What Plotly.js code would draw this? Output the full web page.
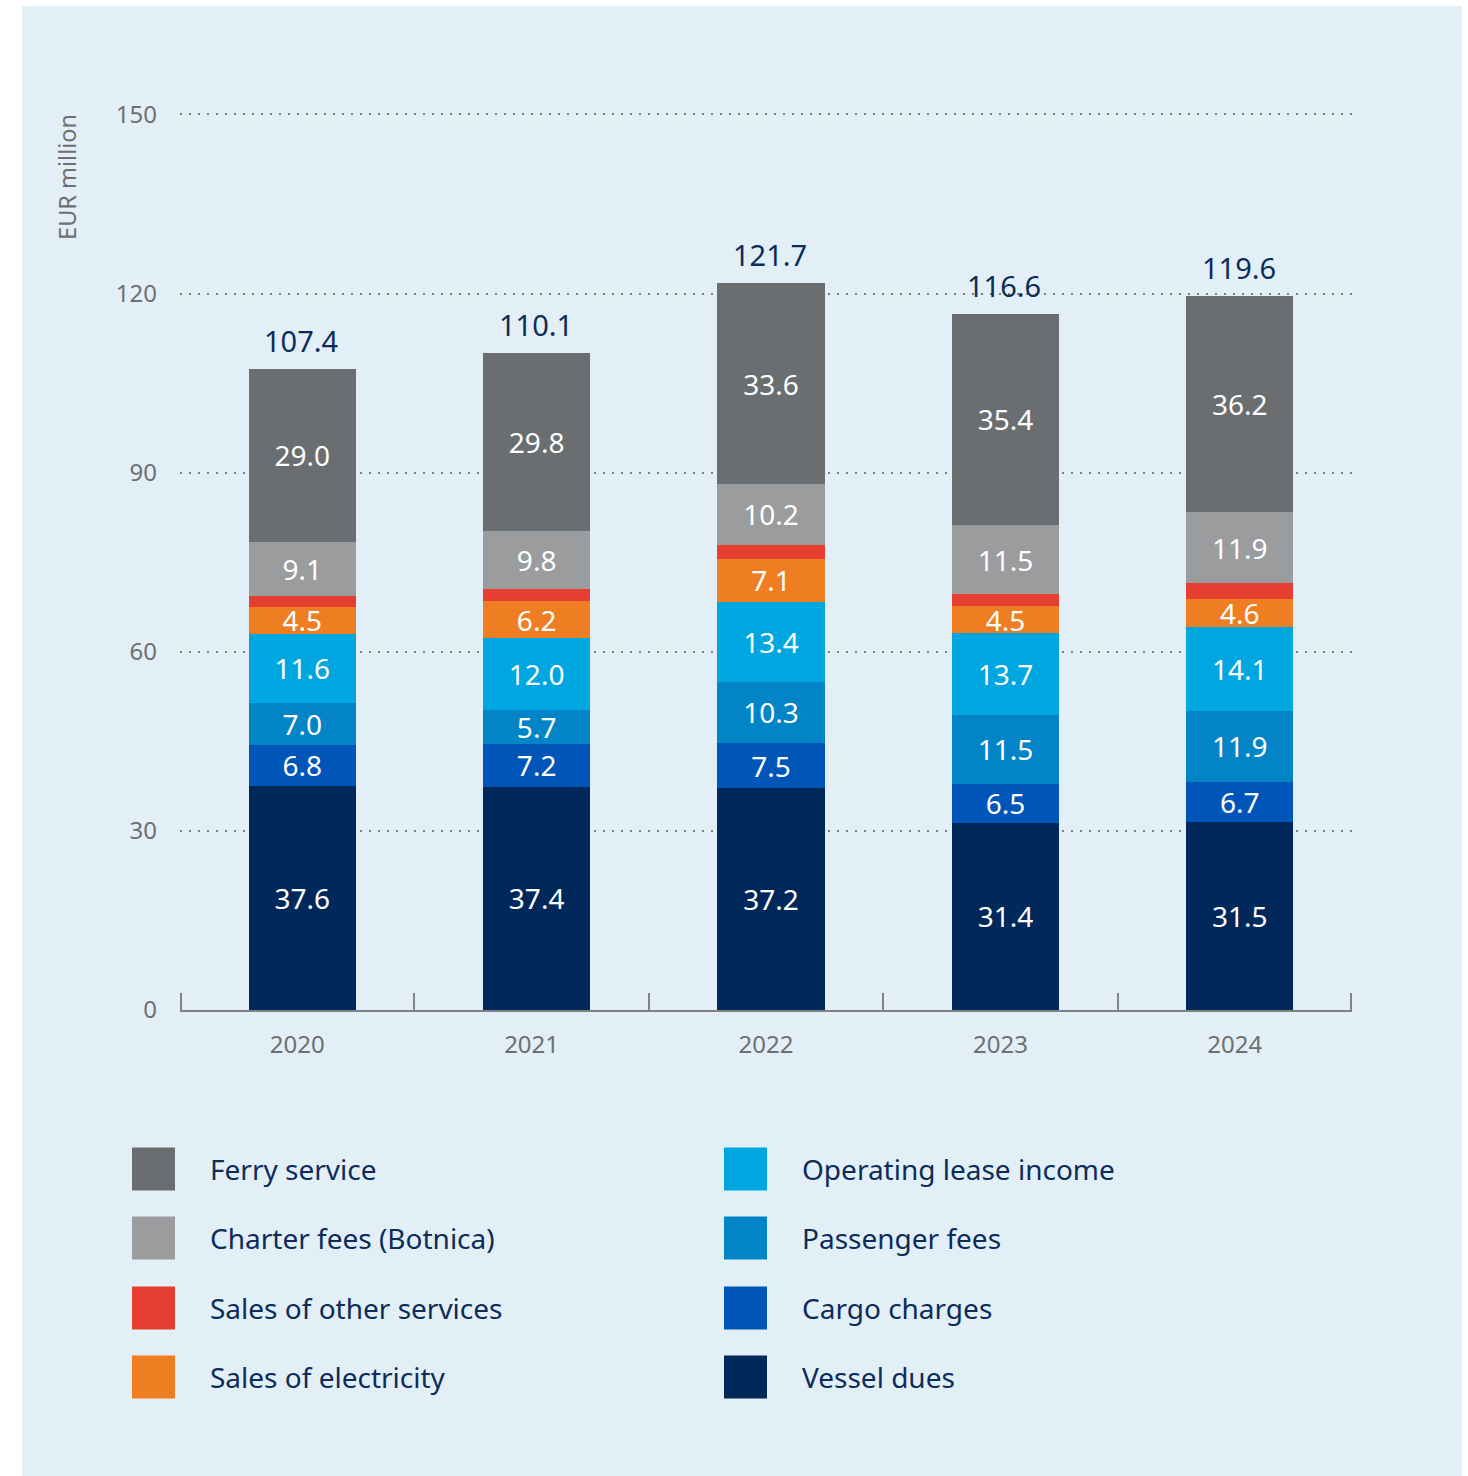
<!DOCTYPE html>
<html>
<head>
<meta charset="utf-8">
<script src="https://cdn.plot.ly/plotly-3.0.1.min.js"></script>
<style>
  html, body { margin: 0; padding: 0; background: #ffffff; }
  #panel { position: absolute; left: 22px; top: 6px; width: 1440px; height: 1470px; background: #e3eff7; }
  #chart { position: absolute; left: 0; top: 0; width: 1468px; height: 1476px; }
</style>
</head>
<body>
<div id="panel"></div>
<div id="chart"></div>
<script>
// ---- data ----
const years = ['2020', '2021', '2022', '2023', '2024'];
const vesselDues      = [37.6, 37.4, 37.2, 31.4, 31.5];
const cargoCharges    = [6.8, 7.2, 7.5, 6.5, 6.7];
const passengerFees   = [7.0, 5.7, 10.3, 11.5, 11.9];
const operatingLease  = [11.6, 12.0, 13.4, 13.7, 14.1];
const electricity     = [4.5, 6.2, 7.1, 4.5, 4.6];
const otherServices   = [1.8, 2.0, 2.4, 2.1, 2.7];
const charterFees     = [9.1, 9.8, 10.2, 11.5, 11.9];
const ferryService    = [29.0, 29.8, 33.6, 35.4, 36.2];
const totals          = [107.4, 110.1, 121.7, 116.6, 119.6];

const seriesNames = ['Vessel dues', 'Cargo charges', 'Passenger fees', 'Operating lease income',
                     'Sales of electricity', 'Sales of other services', 'Charter fees (Botnica)', 'Ferry service'];
const seriesValues = [vesselDues, cargoCharges, passengerFees, operatingLease,
                      electricity, otherServices, charterFees, ferryService];
const seriesLabelled = [true, true, true, true, true, false, true, true];
const seriesColors = ['#00285a', '#0055b9', '#0284c7', '#00a6e0',
                      '#ef7d22', '#e63e30', '#9b9c9e', '#6b6e70'];

const FONT = 'Noto Sans, Open Sans, DejaVu Sans, sans-serif';
const NAVY = '#0c2c59';
const GREY = '#6d6f71';
const AXIS = '#808285';

const traces = seriesNames.map((name, i) => ({
  type: 'bar',
  name: name,
  x: years,
  y: seriesValues[i],
  width: 0.457,
  offset: -0.207,
  text: seriesLabelled[i] ? seriesValues[i].map(v => v.toFixed(1)) : seriesValues[i].map(() => ''),
  textposition: 'inside',
  insidetextanchor: 'middle',
  textangle: 0,
  constraintext: 'none',
  textfont: { family: FONT, size: 28, color: '#ffffff' },
  marker: { color: seriesColors[i], line: { width: 0 } },
  hoverinfo: 'skip'
}));

const annotations = years.map((yr, i) => ({
  x: i, y: totals[i], xref: 'x', yref: 'y',
  xshift: 4,
  text: totals[i].toFixed(1), showarrow: false,
  yanchor: 'bottom', yshift: 7,
  font: { family: FONT, size: 29, color: NAVY }
}));

annotations.push({
  xref: 'paper', yref: 'paper', x: -0.0965, y: 1.0,
  xanchor: 'center', yanchor: 'top', textangle: -90,
  text: 'EUR million', showarrow: false,
  font: { family: FONT, size: 23.5, color: GREY }
});

// custom legend (two columns, top of stack first)
const PH = 898;   // plot height in px
const PW = 1172;  // plot width in px
const BASE = 1010; // pixel row of y=0
const px2x = p => (p - 180) / PW;
const py2y = p => (BASE - p) / PH;
const legendOrder = seriesNames.map((_, i) => i).reverse();
const shapes = [];
const colLeft = [132, 724];
const colText = [208, 800];
const rowCenter = [1169, 1238, 1308, 1377];
legendOrder.forEach((si, k) => {
  const col = Math.floor(k / 4), row = k % 4;
  shapes.push({
    type: 'rect', xref: 'paper', yref: 'paper',
    x0: px2x(colLeft[col]), x1: px2x(colLeft[col] + 43),
    y0: py2y(rowCenter[row] + 21.5), y1: py2y(rowCenter[row] - 21.5),
    fillcolor: seriesColors[si], line: { width: 0 }
  });
  annotations.push({
    xref: 'paper', yref: 'paper', x: px2x(colText[col]), y: py2y(rowCenter[row]),
    xanchor: 'left', yanchor: 'middle', showarrow: false,
    text: seriesNames[si],
    font: { family: FONT, size: 28, color: NAVY }
  });
});

// axis end ticks (boundary ticks at both ends of the category axis)
[181, 1351].forEach(px => {
  shapes.push({
    type: 'line', xref: 'paper', yref: 'paper', layer: 'below',
    x0: px2x(px), x1: px2x(px),
    y0: py2y(1010), y1: py2y(993),
    line: { color: AXIS, width: 2 }
  });
});

const layout = {
  width: 1468, height: 1476,
  margin: { l: 180, r: 116, t: 112, b: 466, pad: 0 },
  paper_bgcolor: 'rgba(0,0,0,0)',
  plot_bgcolor: 'rgba(0,0,0,0)',
  barmode: 'stack',
  showlegend: false,
  font: { family: FONT },
  xaxis: {
    type: 'category',
    range: [-0.5, 4.5],
    layer: 'below traces',
    showline: true, linecolor: AXIS, linewidth: 2,
    ticks: 'inside', tickson: 'boundaries', ticklen: 17, tickwidth: 2, tickcolor: AXIS,
    showgrid: false, zeroline: false,
    tickfont: { family: FONT, size: 24, color: GREY },
    tickangle: 0,
    ticklabelstandoff: 12
  },
  yaxis: {
    range: [0, 150.4],
    tickvals: [0, 30, 60, 90, 120, 150],
    showgrid: true, gridcolor: '#7c7e81', gridwidth: 2, griddash: '2px,7px',
    zeroline: false, showline: false, ticks: '',
    tickfont: { family: FONT, size: 24, color: GREY },
    ticklabelstandoff: 22
  },
  annotations: annotations,
  shapes: shapes
};

Plotly.newPlot('chart', traces, layout, { displayModeBar: false, staticPlot: true });
</script>
</body>
</html>
